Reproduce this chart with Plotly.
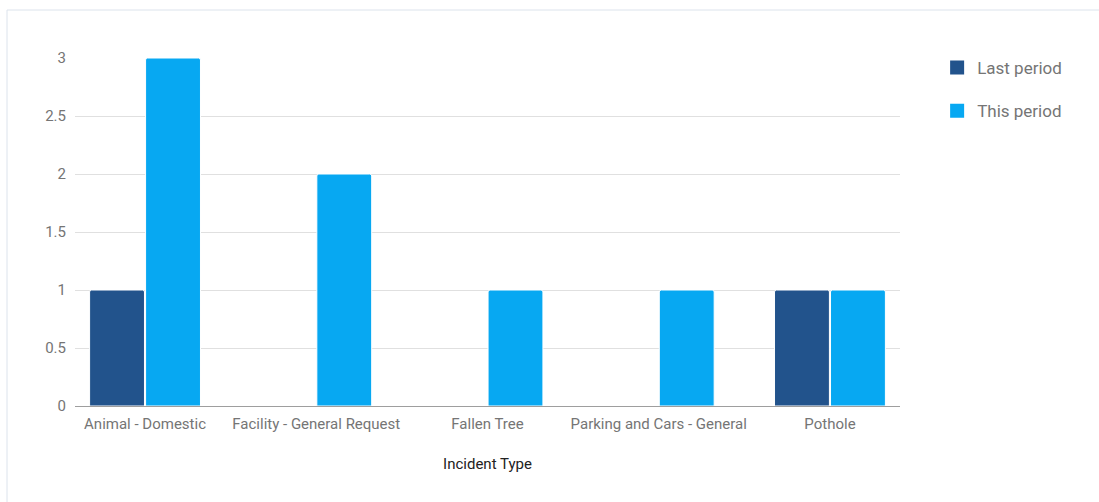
import plotly.graph_objects as go

categories = ["Animal - Domestic", "Facility - General Request", "Fallen Tree",
              "Parking and Cars - General", "Pothole"]
last_period = [1, 0, 0, 0, 1]
this_period = [3, 2, 1, 1, 1]
y_ticks = [0, 0.5, 1, 1.5, 2, 2.5, 3]
y_tick_labels = ["0", "0.5", "1", "1.5", "2", "2.5", "3"]

DARK = "#22538C"
LIGHT = "#07A8F2"
GREY_TEXT = "#757575"

series = [("Last period", last_period, DARK), ("This period", this_period, LIGHT)]

fig = go.Figure()
for name, values, color in series:
    fig.add_trace(go.Bar(
        name=name, x=list(range(len(categories))), y=values,
        marker=dict(color=color, line=dict(color="white", width=1), cornerradius=2),
        showlegend=False,
    ))
# legend entries drawn as square markers
for i, (name, values, color) in enumerate(series):
    fig.add_trace(go.Scatter(
        name=name, x=[None], y=[None], mode="markers",
        marker=dict(symbol="square", size=14, color=color),
        legendgroup=str(i),
    ))

fig.update_layout(
    width=1099, height=502,
    margin=dict(l=75, r=199, t=58, b=96),
    paper_bgcolor="white", plot_bgcolor="white",
    font=dict(family="Roboto", size=15, color=GREY_TEXT),
    barmode="group", bargap=0.346, bargroupgap=0.02,
    showlegend=True,
    legend=dict(
        x=1.045, y=1.023, xanchor="left", yanchor="top",
        font=dict(size=17, color=GREY_TEXT),
        traceorder="grouped", tracegroupgap=18,
        itemwidth=30, itemsizing="trace",
    ),
    xaxis=dict(
        range=[-0.409, 4.409],
        tickmode="array", tickvals=list(range(len(categories))), ticktext=categories,
        showgrid=False, zeroline=False,
        showline=False, ticks="", ticklabelstandoff=7,
        tickfont=dict(size=15, color=GREY_TEXT),
        title=dict(text="Incident Type", font=dict(size=15, color="#222222"), standoff=26),
    ),
    yaxis=dict(
        range=[0, 3],
        tickmode="array", tickvals=y_ticks, ticktext=y_tick_labels,
        showgrid=True, gridcolor="#E0E0E0", gridwidth=1,
        zeroline=True, zerolinecolor="#9E9E9E", zerolinewidth=1,
        ticks="", ticklabelstandoff=8,
        tickfont=dict(size=15, color=GREY_TEXT),
    ),
    shapes=[dict(
        type="rect", xref="paper", yref="paper",
        x0=(7 - 75) / 825, x1=1.6, y0=-0.6, y1=(406 - 10) / 348,
        line=dict(color="#DCE3EC", width=1), fillcolor="rgba(0,0,0,0)", layer="below",
    )],
)

fig.write_html("out.html")
